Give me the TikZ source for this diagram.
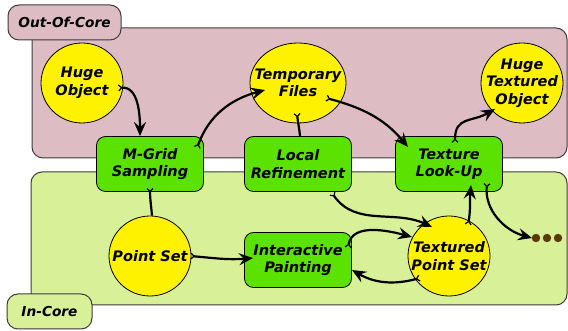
\documentclass[tikz,border=0pt]{standalone}
\usepackage{fontspec}
\setmainfont{DejaVu Sans}
\usepackage{tikz}
\usetikzlibrary{arrows.meta,shapes.geometric,positioning}
\definecolor{outcore}{HTML}{DEBCC4}
\definecolor{incore}{HTML}{D8F098}
\definecolor{taskgreen}{HTML}{5CE200}
\definecolor{datayellow}{HTML}{FFF200}
\definecolor{dotbrown}{HTML}{5A380A}
\definecolor{rimgray}{HTML}{3C3C3C}

\begin{document}
\begin{tikzpicture}[x=1pt,y=1pt,
  every node/.style={font=\fontsize{14.5}{17.5}\selectfont\bfseries\itshape, align=center},
  data/.style={draw, ellipse, fill=datayellow, line width=0.8pt, minimum width=82pt, minimum height=80pt, inner xsep=-15pt, inner ysep=-5pt},
  task/.style={draw, rounded corners=9pt, fill=taskgreen, line width=0.8pt, minimum width=107pt, minimum height=55pt},
  region/.style={draw=rimgray, rounded corners=11pt, line width=1pt},
  flow/.style={line width=2.2pt, {Straight Barb[reversed,length=3pt,width=6pt,line width=1.2pt]}-{Stealth[length=14pt,width=12pt,inset=5pt]}},
  link/.style={line width=2.2pt, {Straight Barb[reversed,length=3pt,width=6pt,line width=1.2pt]}-}]
\useasboundingbox (0,0) rectangle (568,331);

% the two memory levels
\draw[region, fill=outcore] (32,173) rectangle (567,303);
\draw[region, fill=incore] (31,26) rectangle (567,159);

% data
\node (hobj) at (82,248) [data] {Huge\\Object};
\node (tmp) at (298,248) [data, minimum width=96pt] {Temporary\\Files};
\node (htobj) at (522,248) [data] {Huge\\Textured\\Object};
\node (pset) at (150,75) [data] {Point Set};
\node (tpset) at (449,75) [data] {Textured\\Point Set};

% tasks
\node (grid) at (150,167) [task] {M-Grid\\Sampling};
\node (refine) at (298,167) [task] {Local\\Refinement};
\node (lookup) at (449,167) [task] {Texture\\Look-Up};
\node (paint) at (298,71) [task] {Interactive\\Painting};

\coordinate (dots) at (547,93);
\foreach \dx in {-11,0,11}
  \fill[dotbrown] ([xshift=\dx pt]dots) circle (4.2);

% flow
\draw[flow] ([shift={(36,-5)}]hobj.center) to[out=5,in=90] ([xshift=-10pt]grid.north);
\draw[flow] ([shift={(47,16)}]grid.center) to[out=70,in=195] ([shift={(-33,-7)}]tmp.center);
\draw[flow] ([shift={(28,-15)}]tmp.center) to[out=-15,in=130] ([shift={(-41,17)}]lookup.center);
\draw[link] ([shift={(-1,-30)}]tmp.center) to[out=-85,in=95] ([xshift=2pt]refine.north);
\draw[flow] ([shift={(6,21)}]lookup.center) to[out=90,in=210,looseness=1.3] ([shift={(-27,-26)}]htobj.center);
\draw[link] ([yshift=-24pt]grid.center) to[out=-90,in=95] ([xshift=2pt]pset.north);
\draw[flow] ([shift={(34,-29)}]refine.center) to[out=-55,in=155] ([shift={(-17,29)}]tpset.center);
\draw[flow] ([xshift=-1pt]pset.east) to[out=-5,in=185] ([shift={(-45,2)}]paint.center);
\draw[flow] ([shift={(50,12)}]paint.center) to[out=80,in=165] ([shift={(-37,19)}]tpset.center);
\draw[flow] ([shift={(-29,-22)}]tpset.center) to[out=195,in=-30] ([shift={(54,-10)}]paint.center);
\draw[flow] ([shift={(19,31)}]tpset.center) to[out=80,in=-95] ([shift={(22,-21)}]lookup.center);
\draw[flow] ([shift={(38,-19)}]lookup.center) to[out=-95,in=165] ([xshift=-15pt]dots);

% labels of the levels
\node (outlabel) at (64.5,308.5) [region, fill=outcore, minimum width=113pt, minimum height=35pt, inner sep=0pt, font=\fontsize{13.7}{16}\selectfont\bfseries\itshape] {Out-Of-Core};
\node (inlabel) at (49.5,19.5) [region, fill=incore, minimum width=85pt, minimum height=35pt, inner sep=0pt, font=\fontsize{13.7}{16}\selectfont\bfseries\itshape] {In-Core};
\end{tikzpicture}
\end{document}
